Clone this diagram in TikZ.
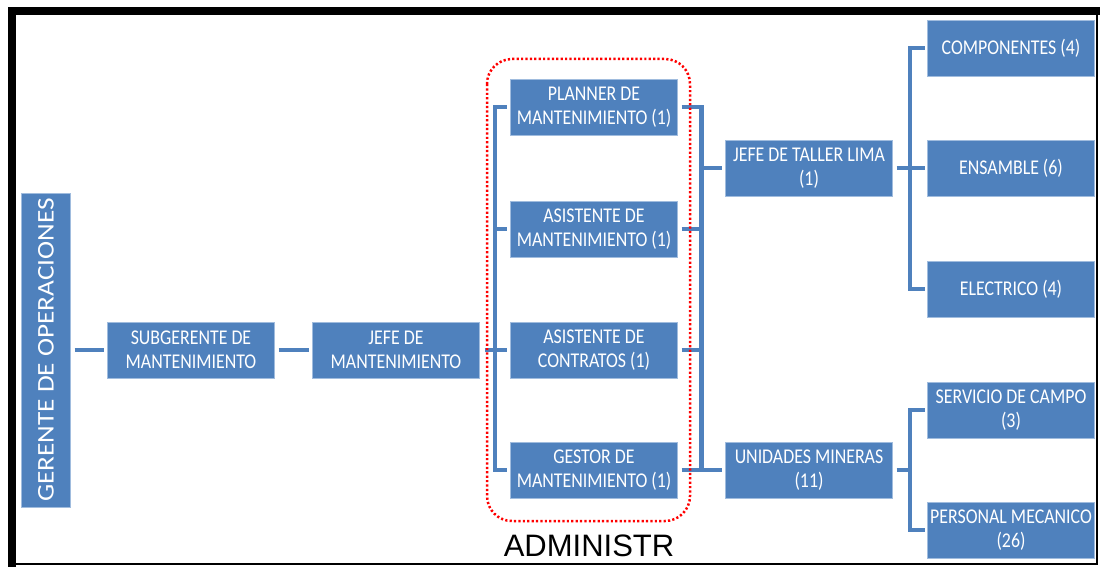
\documentclass[tikz,border=0pt]{standalone}
\usepackage{fontspec}
\setmainfont{Carlito}
\newfontfamily\boxfont[FakeStretch=0.85]{Carlito}
\newfontfamily\gerfont[FakeStretch=1.14]{Carlito}
\newfontfamily\labfont{Liberation Sans}
\usetikzlibrary{positioning,calc}
\definecolor{orgblue}{RGB}{79,129,189}
\definecolor{orgedge}{RGB}{160,188,222}

\begin{document}
\begin{tikzpicture}[x=1pt, y=-1pt,
  every node/.style={font=\boxfont\fontsize{21}{24}\selectfont, text=white},
  puesto/.style={fill=orgblue, draw=orgedge, line width=0.8pt, minimum width=167pt, minimum height=56pt, inner sep=0pt, outer sep=0pt, align=center},
  enlace/.style={draw=orgblue, line width=4.5pt}]

\useasboundingbox (0,0) rectangle (1100,567);
% marco
\draw[line width=8pt] (12,567) -- (12,11) -- (1100,11);
\draw[line width=2.5pt] (12,564) -- (1097,564) -- (1097,11);

\node[puesto, minimum width=49pt, minimum height=314pt] (ger) at (46,350) {\rotatebox{90}{\gerfont\fontsize{23.9}{26}\selectfont GERENTE DE OPERACIONES}};
\node[puesto, right=37pt of ger] (sub) {SUBGERENTE DE\\MANTENIMIENTO};
\node[puesto, right=38pt of sub] (jefe) {JEFE DE\\MANTENIMIENTO};

% administracion
\node[puesto, right=31pt of jefe] (asc) {ASISTENTE DE\\CONTRATOS (1)};
\node[puesto, above=65pt of asc] (asm) {ASISTENTE DE\\MANTENIMIENTO (1)};
\node[puesto, above=66pt of asm] (pla) {PLANNER DE\\MANTENIMIENTO (1)};
\node[puesto, below=64pt of asc] (ges) {GESTOR DE\\MANTENIMIENTO (1)};

\node[puesto, right=48pt of ges] (uni) {UNIDADES MINERAS\\(11)};
\node[puesto, above=246pt of uni] (jta) {JEFE DE TALLER LIMA\\(1)};

\node[puesto, right=35pt of jta] (ens) {ENSAMBLE (6)};
\node[puesto, above=64pt of ens] (com) {COMPONENTES (4)};
\node[puesto, below=65pt of ens] (ele) {ELECTRICO (4)};
\node[puesto, right=35pt of uni, yshift=60pt] (ser) {SERVICIO DE CAMPO\\(3)};
\node[puesto, below=64pt of ser] (per) {PERSONAL MECANICO\\(26)};

% enlaces
\draw[enlace, shorten <=4pt, shorten >=4pt] (ger) -- (sub);
\draw[enlace, shorten <=4pt, shorten >=4pt] (sub) -- (jefe);
\draw[enlace, shorten <=5pt, shorten >=4pt] (jefe) -- (asc);

\coordinate (bizq) at ($(jefe.east)!0.5!(asc.west)$);
\draw[enlace] ([xshift=-4pt]pla.west) -| (bizq) |- ([xshift=-4pt]ges.west);
\draw[enlace] ([xshift=-4pt]asm.west) -- (asm.west -| bizq);

\coordinate (bder) at ($(ges.east)!0.5!(uni.west)$);
\draw[enlace] ([xshift=4pt]pla.east) -| (bder);
\draw[enlace] ([xshift=4pt]ges.east) -- ([xshift=-4pt]uni.west);
\draw[enlace] ([xshift=4pt]asm.east) -- (asm.east -| bder);
\draw[enlace] ([xshift=4pt]asc.east) -- (asc.east -| bder);
\draw[enlace] (jta.west -| bder) -- ([xshift=-4pt]jta.west);

\coordinate (btal) at ($(jta.east)!0.5!(ens.west)$);
\draw[enlace, shorten <=4pt, shorten >=3pt] (jta) -- (ens);
\draw[enlace] ([xshift=-3pt]com.west) -| (btal) |- ([xshift=-3pt]ele.west);

\coordinate (buni) at ($(uni.east)!0.5!(ser.west |- uni.east)$);
\draw[enlace, shorten <=4pt] (uni) -- (buni);
\draw[enlace] ([xshift=-3pt]ser.west) -| (buni) |- ([xshift=-3pt]per.west);

% area administrativa
\draw[red, line width=2.5pt, dash pattern=on 2.2pt off 2.2pt, rounded corners=25pt] (487,59) rectangle (690,521);
\node[font=\labfont\fontsize{31}{31}\selectfont, text=black, anchor=base, inner sep=0pt] (adm) at (589,556.7) {ADMINISTR};
\end{tikzpicture}
\end{document}
